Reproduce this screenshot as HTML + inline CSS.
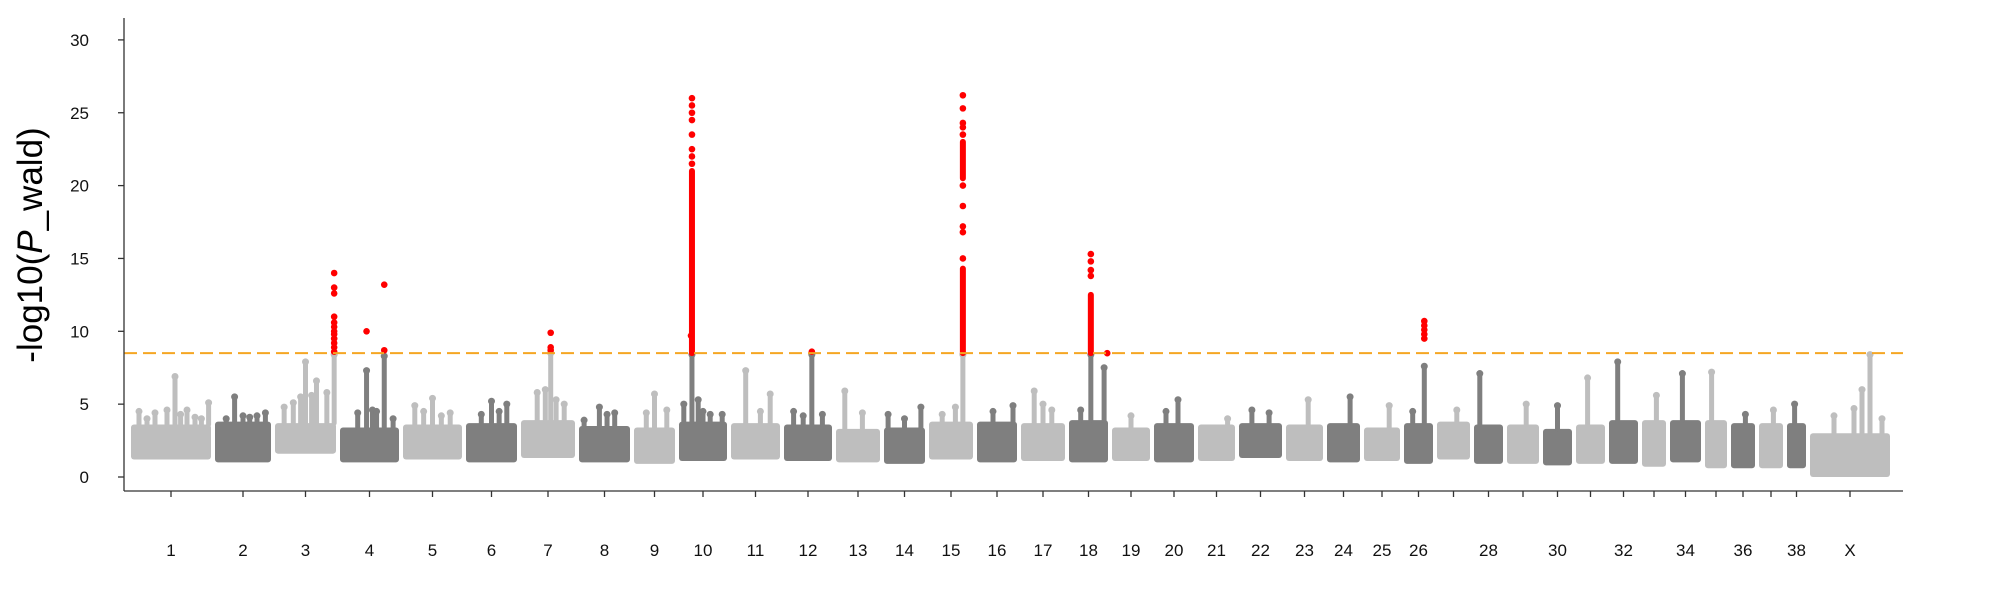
<!DOCTYPE html>
<html><head><meta charset="utf-8"><style>
html,body{margin:0;padding:0;background:#fff;width:2000px;height:600px;overflow:hidden}
svg{display:block;font-family:"Liberation Sans",sans-serif}
</style></head><body>
<svg id="chart" width="2000" height="600" viewBox="0 0 2000 600">
<g id="marks"></g>
<g id="axes"></g>
</svg>
<script>
const chroms = ["1","2","3","4","5","6","7","8","9","10","11","12","13","14","15","16","17","18","19","20","21","22","23","24","25","26","27","28","29","30","31","32","33","34","35","36","37","38","X"];
const chromLengths = [80,56,61,59,59,51,54,51,41,48,49,48,44,41,44,40,44,39,38,40,37,43,37,33,36,29,33,29,32,29,29,29,24,31,22,24,24,19,80];
const floors = [1.2,1.0,1.6,1.0,1.2,1.0,1.3,1.0,0.9,1.1,1.2,1.1,1.0,0.9,1.2,1.0,1.1,1.0,1.1,1.0,1.1,1.3,1.1,1.0,1.1,0.9,1.2,0.9,0.9,0.8,0.9,0.9,0.7,1.0,0.6,0.6,0.6,0.6,0.0];
const tops = [3.6,3.8,3.7,3.4,3.6,3.7,3.9,3.5,3.4,3.8,3.7,3.6,3.3,3.4,3.8,3.8,3.7,3.9,3.4,3.7,3.6,3.7,3.6,3.7,3.4,3.7,3.8,3.6,3.6,3.3,3.6,3.9,3.9,3.9,3.9,3.7,3.7,3.7,3.0];
const labelShown = ["1","2","3","4","5","6","7","8","9","10","11","12","13","14","15","16","17","18","19","20","21","22","23","24","25","26","","28","","30","","32","","34","","36","","38","X"];
const yTicks = [0,5,10,15,20,25,30];
const threshold = 8.5;
// spikes: [chromIndex, fraction, value]
const spikes = [
[0,0.1,4.5],[0,0.3,4.4],[0,0.45,4.6],[0,0.55,6.9],[0,0.7,4.6],[0,0.8,4.1],[0,0.97,5.1],[0,0.2,4.0],[0,0.62,4.3],[0,0.88,4.0],
[1,0.35,5.5],[1,0.5,4.2],[1,0.75,4.2],[1,0.9,4.4],[1,0.2,4.0],[1,0.62,4.1],
[2,0.15,4.8],[2,0.3,5.1],[2,0.5,7.9],[2,0.68,6.6],[2,0.85,5.8],[2,0.97,8.4],[2,0.6,5.6],[2,0.42,5.5],
[3,0.45,7.3],[3,0.55,4.6],[3,0.75,8.3],[3,0.9,4.0],[3,0.3,4.4],[3,0.62,4.5],
[4,0.2,4.9],[4,0.5,5.4],[4,0.8,4.4],[4,0.35,4.5],[4,0.65,4.2],
[5,0.5,5.2],[5,0.8,5.0],[5,0.3,4.3],[5,0.65,4.5],
[6,0.3,5.8],[6,0.55,8.5],[6,0.8,5.0],[6,0.45,6.0],[6,0.65,5.3],
[7,0.4,4.8],[7,0.7,4.4],[7,0.1,3.9],[7,0.55,4.3],
[8,0.5,5.7],[8,0.3,4.4],[8,0.8,4.6],
[9,0.27,8.4],[9,0.1,5.0],[9,0.5,4.5],[9,0.9,4.3],[9,0.4,5.3],[9,0.65,4.3],
[10,0.3,7.3],[10,0.8,5.7],[10,0.6,4.5],
[11,0.58,8.4],[11,0.2,4.5],[11,0.8,4.3],[11,0.4,4.2],
[12,0.2,5.9],[12,0.6,4.4],
[13,0.1,4.3],[13,0.9,4.8],[13,0.5,4.0],
[14,0.77,8.4],[14,0.3,4.3],[14,0.6,4.8],
[15,0.9,4.9],[15,0.4,4.5],
[16,0.3,5.9],[16,0.5,5.0],[16,0.7,4.6],
[17,0.56,8.4],[17,0.9,7.5],[17,0.3,4.6],
[18,0.5,4.2],
[19,0.6,5.3],[19,0.3,4.5],
[20,0.8,4.0],
[21,0.3,4.6],[21,0.7,4.4],
[22,0.6,5.3],
[23,0.7,5.5],
[24,0.7,4.9],
[25,0.7,7.6],[25,0.3,4.5],
[26,0.6,4.6],
[27,0.2,7.1],
[28,0.6,5.0],
[29,0.5,4.9],
[30,0.4,6.8],
[31,0.3,7.9],
[32,0.6,5.6],
[33,0.4,7.1],
[34,0.3,7.2],
[35,0.6,4.3],
[36,0.6,4.6],
[37,0.4,5.0],
[38,0.55,4.7],[38,0.75,8.4],[38,0.9,4.0],[38,0.3,4.2],[38,0.65,6.0]
];
// significant points: [chromIndex, fraction, value]
const redPoints = [
[2,0.97,8.6],[2,0.97,8.9],[2,0.97,9.2],[2,0.97,9.5],[2,0.97,9.8],[2,0.97,10.0],[2,0.97,10.3],[2,0.97,10.6],[2,0.97,11.0],[2,0.97,12.6],[2,0.97,13.0],[2,0.97,14.0],
[3,0.45,10.0],[3,0.75,8.7],[3,0.75,13.2],
[6,0.55,8.7],[6,0.55,8.9],[6,0.55,9.9],
[9,0.27,21.5],[9,0.27,22.0],[9,0.27,22.5],[9,0.27,23.5],[9,0.27,24.5],[9,0.27,25.0],[9,0.27,25.5],[9,0.27,26.0],[9,0.25,9.7],
[11,0.58,8.6],
[14,0.77,15.0],[14,0.77,16.8],[14,0.77,17.2],[14,0.77,18.6],[14,0.77,20.0],[14,0.77,23.5],[14,0.77,24.0],[14,0.77,24.3],[14,0.77,25.3],[14,0.77,26.2],
[17,0.56,13.8],[17,0.56,14.2],[17,0.56,14.8],[17,0.56,15.3],[17,0.98,8.5],
[25,0.7,9.5],[25,0.7,9.8],[25,0.7,10.1],[25,0.7,10.4],[25,0.7,10.7]
];
// dense significant runs: [chromIndex, fraction, from, to]
const redRuns = [[9,0.27,8.5,21.0],[14,0.77,8.5,14.3],[14,0.77,20.5,23.0],[17,0.56,8.5,12.5]];

const NS="http://www.w3.org/2000/svg";
const X0=131, GAP=4, Y0=477, YK=14.57, AXL=124, AXR=1903, AXB=491;
const starts=[]; let acc=0;
chromLengths.forEach(l=>{starts.push(acc); acc+=l+GAP;});
function xScale(ci,f){return X0+starts[ci]+f*chromLengths[ci];}
function yScale(v){return Y0-v*YK;}
function mk(tag,attrs,parent){const e=document.createElementNS(NS,tag);for(const k in attrs)e.setAttribute(k,attrs[k]);parent.appendChild(e);return e;}
const marks=document.getElementById('marks'), axes=document.getElementById('axes');
const cols=["#bebebe","#7f7f7f"];
chroms.forEach((c,i)=>{
  const r=mk('rect',{x:xScale(i,0),y:yScale(tops[i]),width:chromLengths[i],height:yScale(floors[i])-yScale(tops[i]),rx:3,fill:cols[i%2]},marks);
  
  
});
spikes.forEach(s=>{
  const x=xScale(s[0],s[1]), col=cols[s[0]%2];
  const l=mk('line',{x1:x,x2:x,y1:yScale(tops[s[0]]),y2:yScale(s[2]),stroke:col,'stroke-width':5,'stroke-linecap':'round'},marks);
  
  
  const p=mk('circle',{cx:x,cy:yScale(s[2]),r:3.5,fill:col},marks);
  
  
});
redRuns.forEach(s=>{
  const x=xScale(s[0],s[1]);
  const l=mk('line',{x1:x,x2:x,y1:yScale(s[2]),y2:yScale(s[3]),stroke:'#ff0000','stroke-width':6,'stroke-linecap':'round'},marks);
  
  
});
redPoints.forEach(s=>{
  const p=mk('circle',{cx:xScale(s[0],s[1]),cy:yScale(s[2]),r:3.3,fill:'#ff0000'},marks);
  
  
});
const th=mk('line',{x1:AXL,x2:AXR,y1:yScale(threshold),y2:yScale(threshold),stroke:'#f5a623','stroke-width':2,'stroke-dasharray':'13,6'},marks);


const ya=mk('line',{x1:AXL,x2:AXL,y1:18,y2:AXB,stroke:'#333','stroke-width':1.3},axes);


const xa=mk('line',{x1:AXL,x2:AXR,y1:AXB,y2:AXB,stroke:'#333','stroke-width':1.3},axes);


yTicks.forEach(t=>{
  const y=yScale(t);
  const tk=mk('line',{x1:AXL-6,x2:AXL,y1:y,y2:y,stroke:'#333','stroke-width':1.3},axes);
  
  
  const tx=mk('text',{x:89,y:y+6,'text-anchor':'end','font-size':17,fill:'#111'},axes);
  tx.textContent=t;
  
  
});
chroms.forEach((c,i)=>{
  const x=xScale(i,0.5);
  const tk=mk('line',{x1:x,x2:x,y1:AXB,y2:AXB+6,stroke:'#333','stroke-width':1.3},axes);
  
  
  if(labelShown[i]){
    const tx=mk('text',{x:x,y:556,'text-anchor':'middle','font-size':17,fill:'#111'},axes);
    tx.textContent=labelShown[i];
    
    
  }
});
const yt=mk('text',{x:0,y:0,transform:'translate(42,245) rotate(-90)','text-anchor':'middle','font-size':35,fill:'#000'},axes);
yt.innerHTML='-log10(<tspan font-style="italic">P</tspan>_wald)';


</script>
</body></html>
